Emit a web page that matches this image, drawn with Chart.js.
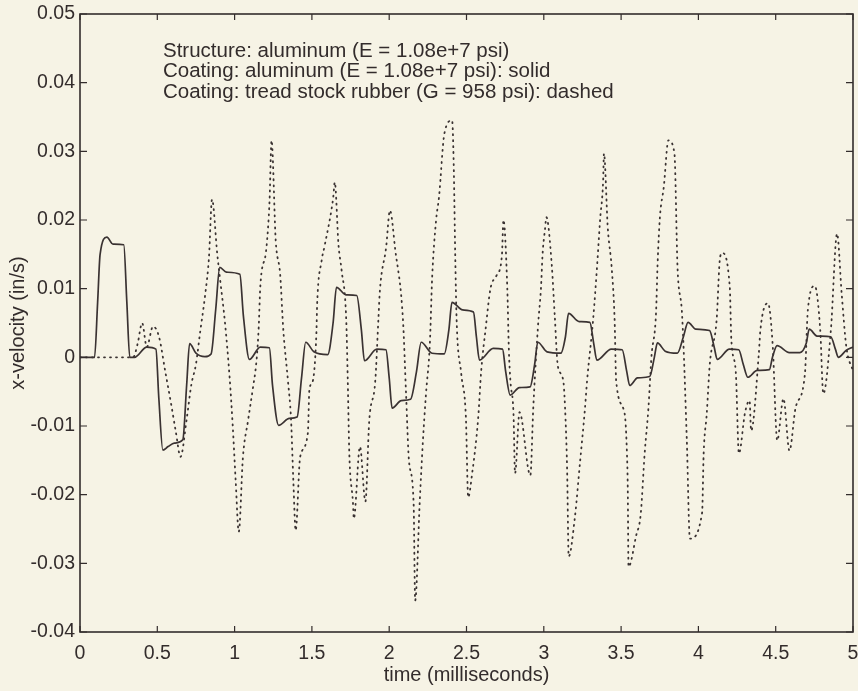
<!DOCTYPE html>
<html>
<head>
<meta charset="utf-8">
<title>x-velocity</title>
<script src="https://cdn.jsdelivr.net/npm/chart.js@4.4.0/dist/chart.umd.min.js"></script>
<style>
  html, body { margin: 0; padding: 0; background: #f6f3e5; }
  #wrap { width: 858px; height: 691px; }
</style>
</head>
<body>
<div id="wrap"><canvas id="chart" width="858" height="691"></canvas></div>
<script>
// tick values and labels
const xTicks = [0, 0.5, 1, 1.5, 2, 2.5, 3, 3.5, 4, 4.5, 5];
const xTickLabels = ['0', '0.5', '1', '1.5', '2', '2.5', '3', '3.5', '4', '4.5', '5'];
const yTicks = [-0.04, -0.03, -0.02, -0.01, 0, 0.01, 0.02, 0.03, 0.04, 0.05];
const yTickLabels = ['-0.04', '-0.03', '-0.02', '-0.01', '0', '0.01', '0.02', '0.03', '0.04', '0.05'];

const notes = [
  'Structure: aluminum (E = 1.08e+7 psi)',
  'Coating: aluminum (E = 1.08e+7 psi): solid',
  'Coating: tread stock rubber (G = 958 psi): dashed'
];

// aluminum coating (solid)
const alumX = [0, 0.094, 0.114, 0.13, 0.174, 0.213, 0.283, 0.303, 0.322, 0.352, 0.432, 0.491, 0.51, 0.536, 0.57, 0.61, 0.665, 0.69, 0.709, 0.75,
  0.808, 0.848, 0.878, 0.904, 0.947, 1.034, 1.057, 1.096, 1.166, 1.225, 1.245, 1.285, 1.354, 1.404, 1.433, 1.46, 1.513, 1.602, 1.637, 1.659,
  1.72, 1.79, 1.82, 1.84, 1.92, 1.979, 2.0, 2.019, 2.078, 2.138, 2.177, 2.207, 2.277, 2.356, 2.386, 2.406, 2.475, 2.545, 2.564, 2.584,
  2.673, 2.733, 2.753, 2.783, 2.842, 2.911, 2.941, 2.961, 3.021, 3.11, 3.14, 3.16, 3.229, 3.298, 3.323, 3.343, 3.437, 3.507, 3.536, 3.556,
  3.606, 3.685, 3.715, 3.735, 3.785, 3.864, 3.903, 3.933, 3.983, 4.072, 4.102, 4.122, 4.201, 4.261, 4.29, 4.32, 4.38, 4.459, 4.479, 4.509,
  4.588, 4.657, 4.697, 4.717, 4.767, 4.856, 4.886, 4.905, 4.955, 5.0];
const alumY = [0, 0, 0.008, 0.015, 0.0175, 0.0165, 0.0164, 0.008, 0, 0, 0.0015, 0.0012, -0.006, -0.0135, -0.013, -0.0125, -0.012, -0.004, 0.002, 0.0006,
  0.0001, 0.0005, 0.007, 0.0131, 0.0124, 0.0121, 0.006, -0.0003, 0.0015, 0.0014, -0.004, -0.0099, -0.0089, -0.0087, -0.003, 0.0022, 0.0008, 0.0004, 0.005, 0.0102,
  0.0091, 0.009, 0.004, -0.0005, 0.0012, 0.0011, -0.003, -0.0074, -0.0063, -0.0061, -0.002, 0.0022, 0.0006, 0.0005, 0.004, 0.008, 0.0069, 0.0066, 0.003, -0.0004,
  0.0013, 0.0012, -0.002, -0.0055, -0.0044, -0.0043, -0.001, 0.0022, 0.0008, 0.0006, 0.003, 0.0064, 0.0052, 0.0051, 0.002, -0.0004, 0.0012, 0.0011, -0.002, -0.0041,
  -0.003, -0.0028, 0.0, 0.0021, 0.0009, 0.0006, 0.003, 0.0051, 0.0041, 0.0039, 0.0015, -0.0003, 0.0012, 0.0011, -0.001, -0.0029, -0.0019, -0.0018, 0.0, 0.0017,
  0.0007, 0.0007, 0.002, 0.0041, 0.0031, 0.003, 0.0012, 0.0, 0.001, 0.0015];

// tread stock rubber coating (dashed)
const rubX = [0, 0.343, 0.373, 0.402, 0.432, 0.472, 0.511, 0.551, 0.591, 0.621, 0.65, 0.69, 0.72, 0.75, 0.779, 0.809, 0.834, 0.854, 0.888, 0.908,
  0.938, 0.968, 0.988, 1.007, 1.027, 1.054, 1.087, 1.117, 1.142, 1.156, 1.166, 1.206, 1.226, 1.239, 1.266, 1.295, 1.315, 1.345, 1.365, 1.38,
  1.395, 1.424, 1.474, 1.484, 1.504, 1.529, 1.534, 1.563, 1.583, 1.638, 1.648, 1.672, 1.692, 1.722, 1.732, 1.742, 1.766, 1.771, 1.811, 1.846,
  1.871, 1.91, 1.93, 1.94, 1.98, 2.005, 2.039, 2.089, 2.109, 2.128, 2.158, 2.168, 2.198, 2.218, 2.238, 2.263, 2.278, 2.303, 2.322, 2.357,
  2.407, 2.417, 2.427, 2.436, 2.466, 2.496, 2.511, 2.536, 2.575, 2.595, 2.625, 2.655, 2.694, 2.729, 2.739, 2.764, 2.774, 2.784, 2.804, 2.814,
  2.843, 2.913, 2.932, 2.962, 2.982, 2.992, 3.007, 3.017, 3.051, 3.071, 3.091, 3.126, 3.141, 3.151, 3.161, 3.201, 3.235, 3.265, 3.28, 3.319,
  3.344, 3.364, 3.384, 3.389, 3.414, 3.439, 3.458, 3.468, 3.523, 3.538, 3.543, 3.548, 3.597, 3.627, 3.652, 3.677, 3.696, 3.726, 3.736, 3.751,
  3.776, 3.806, 3.845, 3.865, 3.895, 3.925, 3.945, 4.024, 4.034, 4.054, 4.074, 4.118, 4.138, 4.153, 4.203, 4.213, 4.242, 4.262, 4.302, 4.331,
  4.341, 4.391, 4.401, 4.45, 4.48, 4.51, 4.55, 4.589, 4.629, 4.689, 4.708, 4.753, 4.788, 4.808, 4.857, 4.897, 4.927, 4.957, 5.0];
const rubY = [0, 0, 0.002, 0.005, 0.0015, 0.0045, 0.003, -0.002, -0.007, -0.011, -0.0145, -0.009, -0.004, -0.001, 0.004, 0.009, 0.0145, 0.023, 0.015, 0.011,
  0.005, -0.003, -0.01, -0.018, -0.0254, -0.0145, -0.0092, -0.0047, -0.0004, 0.0044, 0.0102, 0.016, 0.0228, 0.0316, 0.017, 0.012, 0.004, -0.0034, -0.009, -0.018,
  -0.0252, -0.0145, -0.011, -0.0046, -0.0036, 0.0035, 0.0078, 0.0141, 0.0163, 0.0233, 0.0255, 0.0164, 0.0127, 0.0055, -0.0034, -0.014, -0.0213, -0.0235, -0.013, -0.021,
  -0.0092, -0.0034, 0.0055, 0.0098, 0.016, 0.0214, 0.0157, 0.0055, -0.0053, -0.0151, -0.0213, -0.0354, -0.0208, -0.0122, -0.0053, 0.002, 0.0117, 0.0199, 0.0233, 0.0326,
  0.0345, 0.0284, 0.015, 0.0055, -0.0024, -0.0087, -0.0204, -0.017, -0.009, -0.002, 0.0044, 0.01, 0.0119, 0.0148, 0.02, 0.01, 0.0011, -0.0034, -0.0082, -0.0169,
  -0.008, -0.0172, -0.0073, 0.0044, 0.0102, 0.015, 0.0185, 0.0204, 0.0136, 0.006, -0.0013, -0.0034, -0.0092, -0.0165, -0.029, -0.0233, -0.0151, -0.0078, -0.0034, 0.0055,
  0.0131, 0.02, 0.0258, 0.0297, 0.0188, 0.0131, 0.0055, -0.0034, -0.0082, -0.0141, -0.0189, -0.0305, -0.026, -0.0228, -0.0141, -0.0073, 0, 0.0065, 0.0136, 0.0204,
  0.0248, 0.0316, 0.0297, 0.0131, 0.006, -0.012, -0.0264, -0.0226, -0.014, -0.0082, -0.0009, 0.0055, 0.0141, 0.0152, 0.0102, 0.0026, -0.0022, -0.014, -0.008, -0.0063,
  -0.0107, 0.0006, 0.004, 0.0079, 0.002, -0.0121, -0.006, -0.0136, -0.0073, -0.0024, 0.0069, 0.0104, 0.004, -0.0053, 0.004, 0.018, 0.0092, 0.0015, -0.002];

const ink = '#332c2c';
Chart.defaults.font.family = '"Liberation Sans", Arial, Helvetica, sans-serif';
Chart.defaults.color = ink;

function pts(xs, ys) {
  return xs.map((x, i) => ({x: x, y: ys[i]}));
}

// box round the plot with inward ticks, plus the text notes
const frame = {
  id: 'frame',
  beforeDraw(chart) {
    const ctx = chart.ctx;
    ctx.save();
    ctx.fillStyle = '#f6f3e5';
    ctx.fillRect(0, 0, chart.width, chart.height);
    ctx.restore();
  },
  afterDatasetsDraw(chart) {
    const {ctx, chartArea: a, scales: {x, y}} = chart;
    ctx.save();
    ctx.strokeStyle = ink;
    ctx.lineWidth = 1.6;
    ctx.strokeRect(a.left, a.top, a.right - a.left, a.bottom - a.top);
    ctx.lineWidth = 1.2;
    ctx.beginPath();
    xTicks.forEach(v => {
      const px = x.getPixelForValue(v);
      ctx.moveTo(px, a.bottom); ctx.lineTo(px, a.bottom - 6);
      ctx.moveTo(px, a.top); ctx.lineTo(px, a.top + 6);
    });
    yTicks.forEach(v => {
      const py = y.getPixelForValue(v);
      ctx.moveTo(a.left, py); ctx.lineTo(a.left + 7, py);
      ctx.moveTo(a.right, py); ctx.lineTo(a.right - 7, py);
    });
    ctx.stroke();

    ctx.fillStyle = ink;
    ctx.font = '20.5px "Liberation Sans", Arial, sans-serif';
    ctx.textBaseline = 'alphabetic';
    notes.forEach((t, i) => ctx.fillText(t, a.left + 83, a.top + 43 + i * 20.4));
    ctx.restore();
  }
};

new Chart(document.getElementById('chart'), {
  type: 'line',
  data: {
    datasets: [
      {
        label: 'aluminum',
        data: pts(alumX, alumY),
        borderColor: '#3a3232',
        borderWidth: 1.7,
        pointRadius: 0,
        cubicInterpolationMode: 'monotone',
        fill: false
      },
      {
        label: 'tread stock rubber',
        data: pts(rubX, rubY),
        borderColor: '#3a3232',
        borderWidth: 1.8,
        borderDash: [1, 5],
        borderCapStyle: 'round',
        pointRadius: 0,
        cubicInterpolationMode: 'monotone',
        fill: false
      }
    ]
  },
  options: {
    responsive: false,
    animation: false,
    events: [],
    layout: { padding: { top: 14, right: 5, bottom: 0, left: 0 } },
    plugins: {
      legend: { display: false },
      tooltip: { enabled: false }
    },
    scales: {
      x: {
        type: 'linear',
        min: 0,
        max: 5,
        grid: { display: false, drawTicks: false },
        border: { display: false },
        afterBuildTicks: s => { s.ticks = xTicks.map(v => ({value: v})); },
        afterFit: s => { s.height = 59; s.paddingLeft = 0; s.paddingRight = 0; },
        ticks: {
          autoSkip: false,
          maxRotation: 0,
          padding: 10,
          font: { size: 19.5 },
          callback: (v, i) => xTickLabels[i]
        },
        title: {
          display: true,
          text: 'time (milliseconds)',
          font: { size: 20 },
          padding: { top: 0, bottom: 4 }
        }
      },
      y: {
        type: 'linear',
        min: -0.04,
        max: 0.05,
        grid: { display: false, drawTicks: false },
        border: { display: false },
        afterBuildTicks: s => { s.ticks = yTicks.map(v => ({value: v})); },
        afterFit: s => { s.width = 80; s.paddingTop = 0; s.paddingBottom = 0; },
        ticks: {
          autoSkip: false,
          padding: 5,
          font: { size: 19.5 },
          callback: (v, i) => yTickLabels[i]
        },
        title: {
          display: true,
          text: 'x-velocity (in/s)',
          font: { size: 20 },
          padding: { top: 6, bottom: 0 }
        }
      }
    }
  },
  plugins: [frame]
});
</script>
</body>
</html>
